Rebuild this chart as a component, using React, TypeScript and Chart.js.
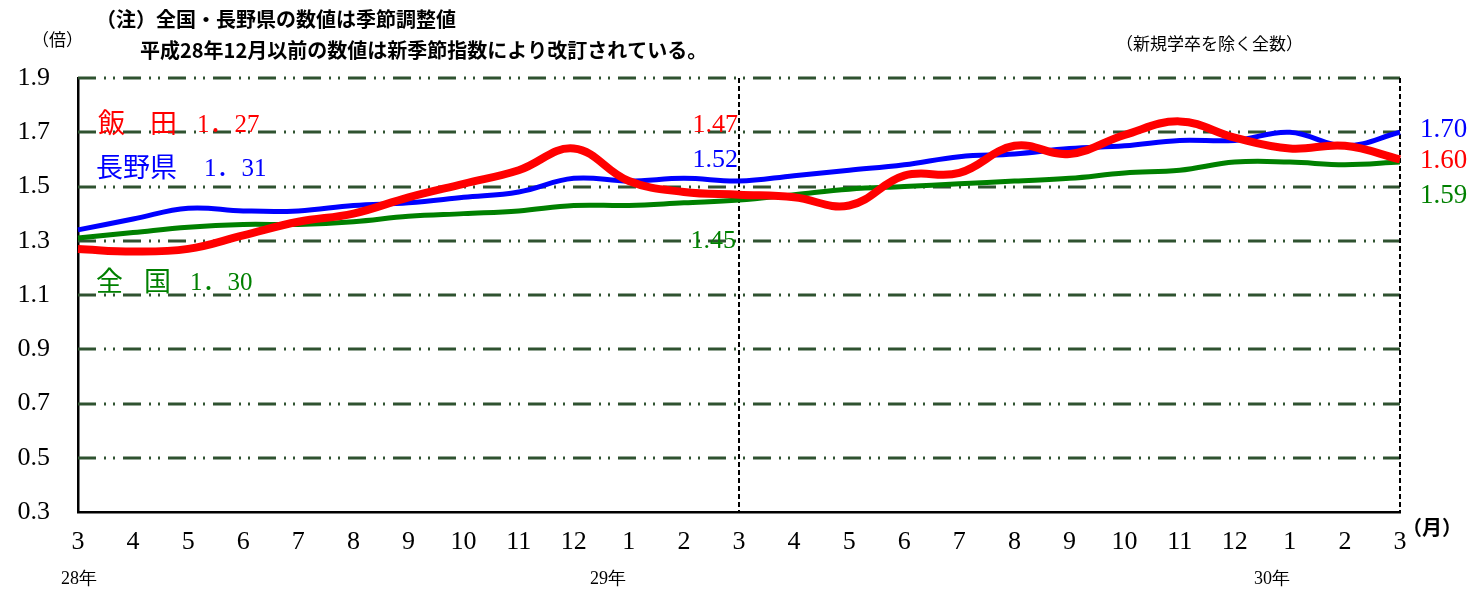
import React, { useEffect, useRef } from "react";
import { Chart, registerables } from "chart.js";

Chart.register(...registerables);

// ---- data ----
const months = ["3", "4", "5", "6", "7", "8", "9", "10", "11", "12", "1", "2", "3", "4", "5", "6", "7", "8", "9", "10", "11", "12", "1", "2", "3"];
const iida = [1.27, 1.26, 1.27, 1.32, 1.37, 1.40, 1.46, 1.51, 1.56, 1.64, 1.52, 1.48, 1.47, 1.46, 1.43, 1.54, 1.55, 1.65, 1.62, 1.69, 1.74, 1.68, 1.64, 1.65, 1.60];
const nagano = [1.34, 1.38, 1.42, 1.41, 1.41, 1.43, 1.44, 1.46, 1.48, 1.53, 1.52, 1.53, 1.52, 1.54, 1.56, 1.58, 1.61, 1.62, 1.64, 1.65, 1.67, 1.67, 1.70, 1.65, 1.70];
const zenkoku = [1.31, 1.33, 1.35, 1.36, 1.36, 1.37, 1.39, 1.40, 1.41, 1.43, 1.43, 1.44, 1.45, 1.47, 1.49, 1.50, 1.51, 1.52, 1.53, 1.55, 1.56, 1.59, 1.59, 1.58, 1.59];
const yTicks = [0.3, 0.5, 0.7, 0.9, 1.1, 1.3, 1.5, 1.7, 1.9];
const dividerIdx = [12, 24];
const yearLabels = ["28年", "29年", "30年"];

const SERIF = '"Liberation Serif", "DejaVu Serif", serif';
const SANS = '"Noto Sans CJK JP", "Noto Sans", sans-serif';
const NUMF = '"Liberation Serif", "Noto Sans CJK JP", serif';

const RED = "#ff0000";
const BLUE = "#0000ff";
const GREEN = "#008000";
const GRID = "#2f5230";

const gridPlugin = {
  id: "customGrid",
  beforeDatasetsDraw(chart: any) {
    const { ctx, chartArea, scales } = chart;
    const y = scales.y;
    const x = scales.x;
    ctx.save();
    ctx.strokeStyle = GRID;
    ctx.lineWidth = 2.8;
    ctx.setLineDash([18, 8, 2, 7, 2, 8]);
    yTicks.forEach((v) => {
      if (v === yTicks[0]) return;
      const py = Math.round(y.getPixelForValue(v));
      ctx.beginPath();
      ctx.moveTo(chartArea.left, py);
      ctx.lineTo(chartArea.right, py);
      ctx.stroke();
    });
    ctx.strokeStyle = "#000";
    ctx.lineWidth = 2;
    ctx.setLineDash([5, 3]);
    dividerIdx.forEach((i) => {
      const px = Math.round(x.getPixelForValue(i));
      ctx.beginPath();
      ctx.moveTo(px, chartArea.top);
      ctx.lineTo(px, chartArea.bottom);
      ctx.stroke();
    });
    ctx.restore();
  },
};

const textPlugin = {
  id: "texts",
  afterDraw(chart: any) {
    const { ctx } = chart;
    ctx.save();
    const t = (s: string, x: number, y: number, font: string, color: string, align: CanvasTextAlign = "left") => {
      ctx.font = font;
      ctx.fillStyle = color;
      ctx.textAlign = align;
      ctx.textBaseline = "middle";
      ctx.fillText(s, x, y);
    };
    // header notes
    t("（注）全国・長野県の数値は季節調整値", 96, 19, `bold 20px ${SANS}`, "#000");
    t("平成28年12月以前の数値は新季節指数により改訂されている。", 140, 50, `bold 20px ${SANS}`, "#000");
    t("（倍）", 32, 40, `17px ${SANS}`, "#000");
    t("（新規学卒を除く全数）", 1116, 44, `17px ${SANS}`, "#000");
    // legend-like labels
    t("飯", 98, 123, `27px ${SANS}`, RED);
    t("田", 150, 123, `27px ${SANS}`, RED);
    t("1．27", 197, 125, `25px ${NUMF}`, RED);
    t("長野県", 96, 167, `27px ${SANS}`, BLUE);
    t("1．31", 204, 169, `25px ${NUMF}`, BLUE);
    t("全", 96, 281, `27px ${SANS}`, GREEN);
    t("国", 144, 281, `27px ${SANS}`, GREEN);
    t("1．30", 190, 283, `25px ${NUMF}`, GREEN);
    // mid labels
    t("1.47", 738, 125, `26px ${SERIF}`, RED, "right");
    t("1.52", 738, 160, `26px ${SERIF}`, BLUE, "right");
    t("1.45", 736, 241, `26px ${SERIF}`, GREEN, "right");
    // right labels
    t("1.70", 1420, 130, `27px ${SERIF}`, BLUE);
    t("1.60", 1420, 161, `27px ${SERIF}`, RED);
    t("1.59", 1420, 196, `27px ${SERIF}`, GREEN);
    // axis extras
    t("（月）", 1402, 527, `bold 20px ${SANS}`, "#000");
    t(yearLabels[0], 79, 579, `18px ${SERIF}`, "#000", "center");
    t(yearLabels[1], 608, 579, `18px ${SERIF}`, "#000", "center");
    t(yearLabels[2], 1272, 579, `18px ${SERIF}`, "#000", "center");
    ctx.restore();
  },
};

export default function App() {
  const ref = useRef<HTMLCanvasElement | null>(null);
  useEffect(() => {
    if (!ref.current) return;
    const chart = new Chart(ref.current, {
      type: "line",
      data: {
        labels: months,
        datasets: [
          { label: "飯田", data: iida, borderColor: RED, borderWidth: 8, tension: 0.4, pointRadius: 0, fill: false },
          { label: "長野県", data: nagano, borderColor: BLUE, borderWidth: 5, tension: 0.4, pointRadius: 0, fill: false },
          { label: "全国", data: zenkoku, borderColor: GREEN, borderWidth: 5, tension: 0.4, pointRadius: 0, fill: false },
        ],
      },
      options: {
        animation: false,
        responsive: false,
        maintainAspectRatio: false,
        layout: { padding: { top: 78, right: 78, left: 0, bottom: 0 } },
        plugins: { legend: { display: false }, tooltip: { enabled: false }, title: { display: false } },
        scales: {
          x: {
            type: "category",
            offset: false,
            grid: { display: false, drawTicks: false },
            border: { display: true, color: "#000", width: 2.5 },
            ticks: {
              autoSkip: false,
              maxRotation: 0,
              padding: 15,
              color: "#000",
              font: { family: SERIF, size: 26 },
            },
            afterFit: (s: any) => {
              s.height = 79;
            },
          },
          y: {
            min: 0.3,
            max: 1.9,
            grid: { display: false, drawTicks: false },
            border: { display: true, color: "#000", width: 2.5 },
            afterBuildTicks: (s: any) => {
              s.ticks = yTicks.map((v) => ({ value: v }));
            },
            ticks: {
              padding: 28,
              color: "#000",
              font: { family: SERIF, size: 26 },
              callback: (v: any) => Number(v).toFixed(1),
            },
            afterFit: (s: any) => {
              s.width = 78;
            },
          },
        },
      },
      plugins: [gridPlugin, textPlugin],
    });
    return () => chart.destroy();
  }, []);
  return (
    <div style={{ position: "absolute", left: 0, top: 0, width: 1478, height: 591, background: "#fff" }}>
      <canvas ref={ref} width={1478} height={591} style={{ width: 1478, height: 591, display: "block" }} />
    </div>
  );
}
